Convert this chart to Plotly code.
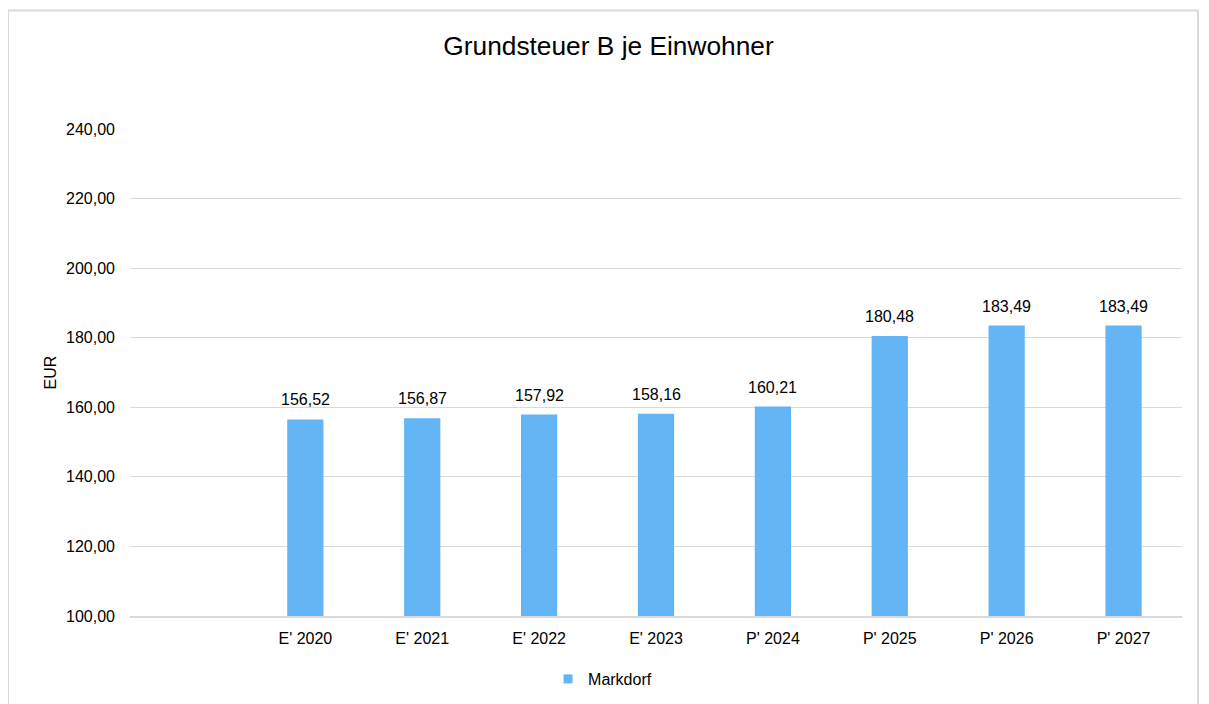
import plotly.graph_objects as go

categories = ["", "E' 2020", "E' 2021", "E' 2022", "E' 2023", "P' 2024", "P' 2025", "P' 2026", "P' 2027"]
values = [None, 156.52, 156.87, 157.92, 158.16, 160.21, 180.48, 183.49, 183.49]
labels = ["" if v is None else f"{v:.2f}".replace(".", ",") for v in values]
series_name = "Markdorf"
bar_color = "#64B5F6"

# page body has an 8px margin, so the figure is shifted by 8px
OFF = 8
W, H = 1209 - OFF, 704 - OFF
L, R, T, B = 130 - OFF, 27, 128.5 - OFF, 88
pw, ph = W - L - R, H - T - B
FONT = "Liberation Sans, Arial"

def px_x(x):
    return (x - OFF - L) / pw

def px_y(y):
    return (H - B - (y - OFF)) / ph

fig = go.Figure()
fig.add_trace(go.Bar(
    x=categories, y=values, name=series_name,
    marker=dict(color=bar_color, line=dict(width=0)),
    width=0.31, showlegend=False,
))
# legend entry with a small square marker
fig.add_trace(go.Scatter(
    x=[None], y=[None], mode="markers", name=series_name,
    marker=dict(symbol="square", size=9, color=bar_color),
    showlegend=True,
))

annotations = []
for c, v, t in zip(categories, values, labels):
    if v is None:
        continue
    annotations.append(dict(x=c, y=v, xref="x", yref="y", text=t, showarrow=False,
                            yanchor="bottom", xanchor="center", yshift=9,
                            font=dict(size=16, color="#000000", family=FONT)))

fig.update_layout(
    width=W, height=H,
    margin=dict(l=L, r=R, t=T, b=B, autoexpand=False),
    paper_bgcolor="white", plot_bgcolor="white",
    font=dict(family=FONT, size=16, color="#000000"),
    separators=",.",
    title=dict(text="Grundsteuer B je Einwohner", x=0.5, xanchor="center",
               y=1 - (46 - OFF) / H, yanchor="middle",
               font=dict(size=26.3, color="#000000")),
    showlegend=True,
    legend=dict(orientation="h", x=0.5 - 61 / W, xanchor="center",
                yref="container", y=1 - (679 - OFF) / H, yanchor="middle",
                font=dict(size=16), itemwidth=30, bgcolor="rgba(0,0,0,0)"),
    xaxis=dict(type="category", categoryorder="array", categoryarray=categories,
               showgrid=False, showline=True, linecolor="#d9d9d9", linewidth=2,
               ticks="", tickfont=dict(size=16), ticklabelstandoff=7),
    yaxis=dict(range=[100, 240], dtick=20, tick0=100, tickformat=".2f",
               showgrid=True, gridcolor="#d9d9d9", gridwidth=1, zeroline=False,
               showline=False, ticks="", tickfont=dict(size=16),
               ticklabelstandoff=14,
               title=dict(text="EUR", font=dict(size=16), standoff=5)),
    annotations=annotations,
    shapes=[dict(type="rect", xref="paper", yref="paper",
                 x0=px_x(OFF), x1=px_x(1198), y0=px_y(720), y1=px_y(10),
                 line=dict(color="#d9d9d9", width=2), fillcolor="rgba(0,0,0,0)",
                 layer="below")],
)

fig.write_html("out.html")
